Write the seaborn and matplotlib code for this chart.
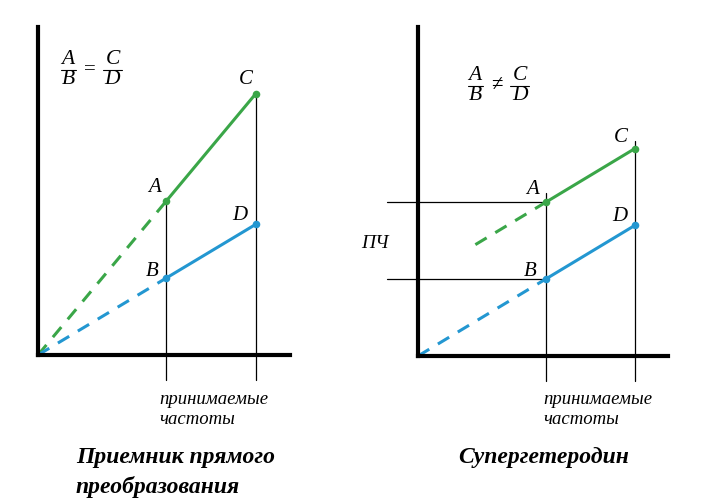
import matplotlib
matplotlib.use("Agg")
import matplotlib.pyplot as plt
from matplotlib.lines import Line2D
import seaborn as sns

# received frequencies (f1 -> points A/B, f2 -> points C/D)
freqs = [1.0, 1.7]

# direct conversion receiver: both lines through origin
direct_green = [1.2, 2.04]   # A, C
direct_blue = [0.6, 1.02]    # B, D

# superheterodyne: green shifted by IF
superhet_green = [1.2, 1.62]  # A, C
superhet_blue = [0.6, 1.02]   # B, D
superhet_green_start = [0.45, 0.87]

GREEN = "#3aa648"
BLUE = "#2397d1"
W, H = 703, 500

sns.set_theme(style="white")
plt.rcParams["font.family"] = ["Liberation Serif", "DejaVu Serif"]
plt.rcParams["text.color"] = "black"

fig = plt.figure(figsize=(W / 100, H / 100), dpi=100)
ax1 = fig.add_axes([38 / W, 145 / H, 252 / W, 328 / H])
ax2 = fig.add_axes([418 / W, 144 / H, 250 / W, 329 / H])

dash = (0, (4.3, 3.3))
lw = 2.2


def base(ax, xmax, ymax):
    ax.set_xlim(0, xmax)
    ax.set_ylim(0, ymax)
    ax.set_xticks([])
    ax.set_yticks([])
    for s in ["top", "right"]:
        ax.spines[s].set_visible(False)
    for s in ["left", "bottom"]:
        ax.spines[s].set_color("black")
        ax.spines[s].set_linewidth(3)
    ax.patch.set_alpha(0)


def draw(ax, green, blue, green_start):
    # thin guide lines down to the frequency axis
    ax.plot([freqs[0], freqs[0]], [-0.195, green[0]], color="black", lw=0.9, clip_on=False, zorder=1)
    ax.plot([freqs[1], freqs[1]], [-0.195, green[1]], color="black", lw=0.9, clip_on=False, zorder=1)
    # dashed extensions
    sns.lineplot(x=[green_start[0], freqs[0]], y=[green_start[1], green[0]], ax=ax,
                 color=GREEN, linewidth=lw, linestyle=dash, zorder=2)
    sns.lineplot(x=[0, freqs[0]], y=[0, blue[0]], ax=ax,
                 color=BLUE, linewidth=lw, linestyle=dash, zorder=2)
    # solid segments
    sns.lineplot(x=freqs, y=green, ax=ax, color=GREEN, linewidth=lw, zorder=3)
    sns.lineplot(x=freqs, y=blue, ax=ax, color=BLUE, linewidth=lw, zorder=3)
    sns.scatterplot(x=freqs, y=green, ax=ax, color=GREEN, s=30, linewidth=0, zorder=4)
    sns.scatterplot(x=freqs, y=blue, ax=ax, color=BLUE, s=30, linewidth=0, zorder=4)


def ftext(x, y, s, **kw):
    # text placed in figure pixels (y measured from top)
    fig.text(x / W, 1 - y / H, s, **kw)


def frac(x, y, num, den, w):
    kw = dict(fontsize=15.5, style="italic", ha="center", va="center")
    ftext(x, y - 10, num, **kw)
    ftext(x, y + 10, den, **kw)
    fig.add_artist(Line2D([(x - w / 2) / W, (x + w / 2) / W], [1 - y / H] * 2,
                          transform=fig.transFigure, color="black", lw=0.8))


def equation(x0, y, sign):
    frac(x0 + 7, y, "A", "B", 15)
    ftext(x0 + 29, y, sign, fontsize=15, ha="center", va="center")
    frac(x0 + 51.5, y, "C", "D", 19)


lab = dict(fontsize=15, style="italic", ha="center", va="center", color="black")

# left panel
base(ax1, 252 / 128, 328 / 128)
draw(ax1, direct_green, direct_blue, [0, 0])
ax1.text(0.91, 1.31, "A", **lab)
ax1.text(0.89, 0.65, "B", **lab)
ax1.text(1.62, 2.15, "C", **lab)
ax1.text(1.58, 1.09, "D", **lab)
equation(61, 70, "=")

# right panel
base(ax2, 250 / 127.5, 329 / 128)
draw(ax2, superhet_green, superhet_blue, superhet_green_start)
ax2.plot([freqs[0], freqs[0]], [superhet_green[0], 1.27], color="black", lw=0.9, zorder=1)
ax2.plot([freqs[1], freqs[1]], [superhet_green[1], 1.68], color="black", lw=0.9, zorder=1)
ax2.plot([-0.24, freqs[0]], [superhet_green[0]] * 2, color="black", lw=0.9, clip_on=False, zorder=1)
ax2.plot([-0.24, freqs[0]], [superhet_blue[0]] * 2, color="black", lw=0.9, clip_on=False, zorder=1)
ax2.text(0.90, 1.30, "A", **lab)
ax2.text(0.88, 0.66, "B", **lab)
ax2.text(1.59, 1.71, "C", **lab)
ax2.text(1.58, 1.09, "D", **lab)
ax2.text(-0.34, 0.88, "ПЧ", fontsize=14, style="italic", ha="center", va="center")
equation(468, 86, "≠")

# captions
cap = dict(fontsize=13.5, style="italic", ha="left", va="center")
ftext(159, 400, "принимаемые", **cap)
ftext(159, 420, "частоты", **cap)
ftext(543, 400, "принимаемые", **cap)
ftext(543, 420, "частоты", **cap)

tit = dict(fontsize=17, style="italic", weight="bold", ha="left", va="center")
ftext(76, 458, "Приемник прямого", **tit)
ftext(76, 487, "преобразования", **tit)
ftext(458, 458, "Супергетеродин", **tit)

fig.savefig("out.png", dpi=100, facecolor="white")
